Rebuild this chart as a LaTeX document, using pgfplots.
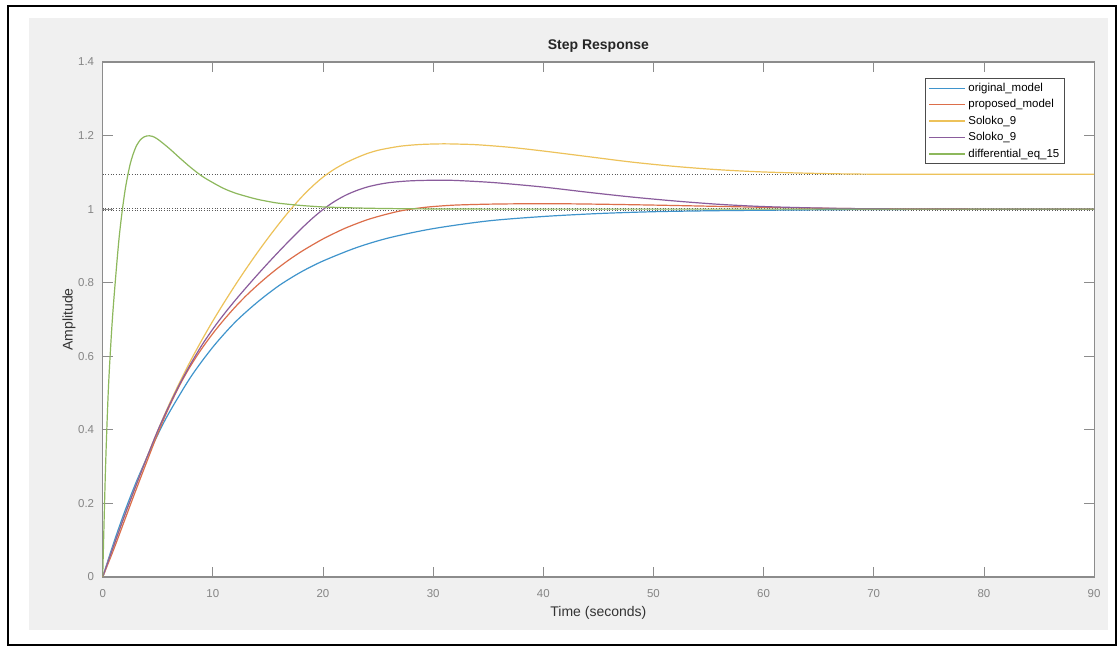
\documentclass[border=0pt]{standalone}
\usepackage{fontspec}
\setmainfont{Liberation Sans}
\usepackage{pgfplots}
\pgfplotsset{compat=1.18}

\definecolor{mblue}{HTML}{3F94CC}
\definecolor{mred}{HTML}{DC6E4A}
\definecolor{myellow}{HTML}{EDC25A}
\definecolor{mpurple}{HTML}{8A5C9C}
\definecolor{mgreen}{HTML}{8DB85C}
\definecolor{figgray}{HTML}{F0F0F0}
\definecolor{axgray}{HTML}{8C8C8C}
\definecolor{ticktext}{HTML}{858585}

\begin{document}
\begin{tikzpicture}[x=0.75pt,y=0.75pt]
  % page, figure window, frame (1 unit = 1 px of the reference)
  \fill[white] (0,0) rectangle (1119,648);
  \fill[figgray] (29,18) rectangle (1108,630);
  \draw[black, line width=1.5pt] (8,3) rectangle (1116,642);

  \begin{axis}[
    at={(77.025pt,53.25pt)}, anchor=south west,
    scale only axis,
    width=743.5pt, height=386.25pt,
    xmin=0, xmax=90, ymin=0, ymax=1.4,
    xtick={0,10,...,90},
    ytick={0,0.2,...,1.4},
    /pgf/number format/assume math mode=true,
    yticklabel style={/pgf/number format/fixed, xshift=-2.9pt},
    xticklabel style={yshift=-6pt},
    ticklabel style={font=\fontsize{8.6}{10}\selectfont, text=ticktext},
    tick align=inside,
    major tick length=7.5pt,
    tick style={axgray, line width=0.6pt},
    axis line style={axgray, line width=0.8pt},
    axis background/.style={fill=white},
    title={Step Response},
    title style={font=\bfseries\fontsize{10.5}{12}\selectfont, text=black!85,
                 at={(axis description cs:0.5,1)}, anchor=base, yshift=3pt},
    xlabel={Time (seconds)},
    xlabel style={font=\fontsize{10.5}{12}\selectfont, text=black!80,
                  at={(axis description cs:0.5,0)}, anchor=base, yshift=-30pt},
    ylabel={Amplitude},
    ylabel style={font=\fontsize{10.5}{12}\selectfont, text=black!80,
                  at={(axis description cs:0,0.5)}, anchor=base, yshift=22.5pt},
    legend cell align=left,
    legend style={at={(0.9708,0.969)}, anchor=north east,
                  draw=black!70, line width=0.6pt, fill=white,
                  font=\fontsize{8.6}{10}\selectfont,
                  row sep=0.6pt, inner xsep=2pt, inner ysep=1.5pt},
    legend image code/.code={\draw[#1] (0pt,0pt) -- (27pt,0pt);},
    every axis plot/.append style={line width=0.9pt},
  ]
  % steady-state lines
  \addplot[forget plot, black!65, line width=0.8pt, dash pattern=on 0.7pt off 1.3pt]
    coordinates {(0,1.095) (90,1.095)};
  \addplot[forget plot, black!65, line width=0.8pt, dash pattern=on 0.7pt off 1.3pt]
    coordinates {(0,0.997) (90,0.997)};
  \addplot[forget plot, black!65, line width=0.8pt, dash pattern=on 0.7pt off 1.3pt]
    coordinates {(0,1.002) (90,1.002)};

  \addplot[mblue, smooth] coordinates {
    (0,0) (1,0.093) (2,0.178) (3,0.255) (4,0.324) (5,0.387) (6,0.445) (8,0.544)
    (10,0.625) (12,0.692) (14,0.746) (16,0.792) (18,0.829) (20,0.859) (23,0.895)
    (26,0.922) (30,0.947) (35,0.968) (40,0.980) (45,0.988) (50,0.993) (55,0.9955)
    (60,0.997) (70,0.999) (80,0.9996) (90,1.0)};
  \addlegendentry{original\_model}

  \addplot[mred, smooth] coordinates {
    (0,0) (1,0.075) (2,0.155) (3,0.235) (4,0.313) (5,0.39) (6,0.46) (7,0.522)
    (8,0.575) (9,0.621) (10,0.662) (11,0.699) (12,0.733) (13,0.764) (14,0.792)
    (15,0.818) (16,0.842) (17,0.864) (18,0.884) (19,0.902) (20,0.919) (21,0.934)
    (22,0.948) (23,0.96) (24,0.971) (25,0.98) (26,0.988) (27,0.995) (28,1.0)
    (29,1.004) (30,1.007) (32,1.011) (35,1.0135) (38,1.0145) (42,1.0145)
    (46,1.013) (50,1.011) (55,1.008) (60,1.005) (65,1.0025) (70,1.001) (80,1.0)
    (90,1.0)};
  \addlegendentry{proposed\_model}

  \addplot[myellow, smooth] coordinates {
    (0,0) (1,0.085) (2,0.168) (3,0.247) (4,0.324) (5,0.398) (6,0.467) (7,0.530)
    (8,0.589) (9,0.644) (10,0.696) (11,0.745) (12,0.792) (13,0.837) (14,0.880)
    (15,0.921) (16,0.96) (17,0.997) (18,1.031) (19,1.061) (20,1.087) (21,1.108)
    (22,1.125) (23,1.139) (24,1.151) (25,1.160) (26,1.166) (27,1.171) (28,1.174)
    (29,1.176) (30,1.177) (31,1.1775) (32,1.177) (34,1.175) (37,1.168) (40,1.158)
    (44,1.143) (48,1.128) (52,1.116) (56,1.107) (60,1.101) (65,1.097) (70,1.095)
    (80,1.095) (90,1.095)};
  \addlegendentry{Soloko\_9}

  \addplot[mpurple, smooth] coordinates {
    (0,0) (1,0.085) (2,0.168) (3,0.247) (4,0.324) (5,0.398) (6,0.464) (7,0.525)
    (8,0.58) (9,0.63) (10,0.674) (11,0.714) (12,0.751) (13,0.786) (14,0.82)
    (15,0.853) (16,0.885) (17,0.916) (18,0.946) (19,0.974) (20,0.999) (21,1.020)
    (22,1.037) (23,1.05) (24,1.06) (25,1.067) (26,1.072) (27,1.075) (28,1.077)
    (29,1.078) (30,1.0785) (31,1.0785) (32,1.078) (34,1.075) (36,1.071) (40,1.06)
    (44,1.046) (48,1.033) (52,1.022) (56,1.013) (60,1.007) (65,1.003) (70,1.001)
    (80,1.0) (90,1.0)};
  \addlegendentry{Soloko\_9}

  \addplot[mgreen, smooth] coordinates {
    (0,0) (0.25,0.29) (0.5,0.50) (0.75,0.64) (1,0.75) (1.5,0.925) (2,1.045)
    (2.5,1.123) (3,1.168) (3.5,1.191) (4,1.199) (4.5,1.198) (5,1.190) (6,1.166)
    (7,1.139) (8,1.113) (9,1.090) (10,1.072) (11,1.056) (12,1.044) (13,1.035)
    (14,1.027) (15,1.021) (16,1.016) (18,1.010) (20,1.006) (22,1.004) (25,1.002)
    (30,1.0005) (40,1.0) (90,1.0)};
  \addlegendentry{differential\_eq\_15}
  \end{axis}
\end{tikzpicture}
\end{document}
